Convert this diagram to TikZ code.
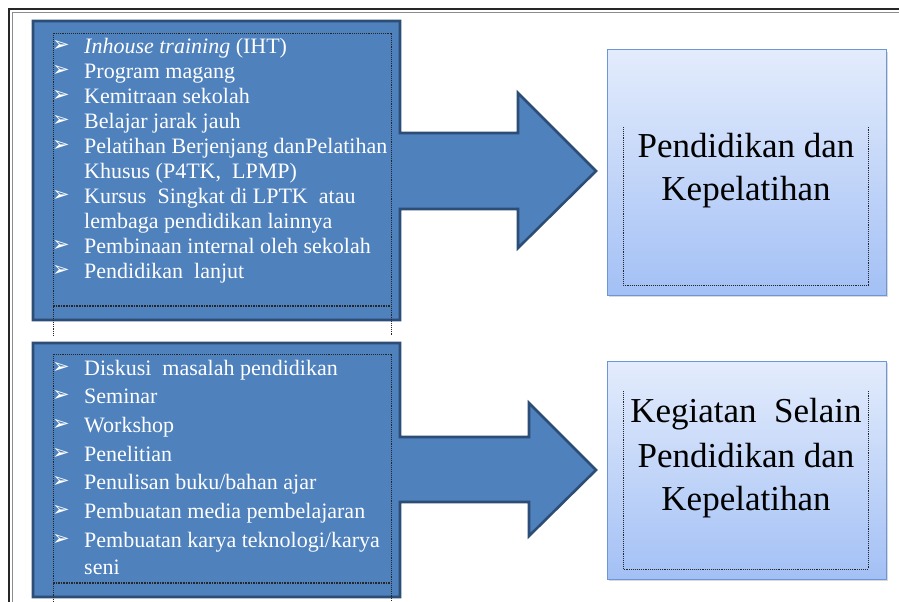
\documentclass[tikz,border=0pt]{standalone}
\usepackage{fontspec}
\setmainfont{LiberationSerif}[Extension=.ttf, UprightFont=*-Regular, ItalicFont=*-Italic, BoldFont=*-Bold, BoldItalicFont=*-BoldItalic]
\newfontfamily\seriffont{LiberationSerif}[Extension=.ttf, UprightFont=*-Regular, ItalicFont=*-Italic, BoldFont=*-Bold, BoldItalicFont=*-BoldItalic]
\newfontfamily\bulletfont{DejaVu Sans}
\definecolor{boxfill}{HTML}{4F81BD}
\definecolor{boxborder}{HTML}{2C4D75}
\definecolor{rtop}{HTML}{E3ECFC}
\definecolor{rbot}{HTML}{A3C0F5}
\definecolor{rborder}{HTML}{6E95D6}
\tikzset{
  callout/.style={fill=boxfill, draw=boxborder, line width=2.6pt, line join=miter},
  frameline/.style={draw=black!85, line width=1.8pt},
  dotframe/.style={draw=black!85, line width=0.9pt, densely dotted},
  dotbottom/.style={draw=black!85, line width=1.6pt, densely dotted},
  lefttxt/.style={anchor=base west, text=white, font=\seriffont\fontsize{22}{25}\selectfont, inner sep=0pt},
  bul/.style={anchor=center, text=white, font=\bulletfont\fontsize{21}{21}\selectfont, inner sep=0pt},
  rbox/.style={draw=rborder, line width=1pt, top color=rtop, bottom color=rbot, inner sep=0pt},
  rshadow/.style={fill=black!15, draw=none},
  righttxt/.style={anchor=base, font=\seriffont\fontsize{35}{44}\selectfont, inner sep=0pt},
}
\begin{document}
\begin{tikzpicture}[x=1pt,y=-1pt]
\useasboundingbox (0,0) rectangle (899,602);
\fill[white] (0,0) rectangle (899,602);
% outer frame
\draw[frameline] (9,602) -- (9,9) -- (899,9);
\draw[black!45, line width=0.7pt] (12.5,602) -- (12.5,12.5) -- (899,12.5);

% upper callout
\draw[callout] (33,21) -- (400,21) -- (400,133) -- (518,133) -- (518,93) -- (596,171) -- (518,248) -- (518,209) -- (400,209) -- (400,320) -- (33,320) -- cycle;
% lower callout
\draw[callout] (33,343) -- (400,343) -- (400,437) -- (529,437) -- (529,403) -- (596,470) -- (529,536) -- (529,502) -- (400,502) -- (400,597) -- (33,597) -- cycle;

% dotted text frames (left)
\draw[dotframe] (53,336) -- (53,33) -- (391,33) -- (391,336);
\draw[dotbottom] (53,306) -- (391,306);
\draw[dotframe] (53,602) -- (53,354) -- (391,354) -- (391,602);
\draw[dotbottom] (53,583) -- (391,583);

% upper list
\foreach \n/\y in {1/53,2/78,3/103,4/128,5/153,7/203,9/253,10/278}
  \node[bul] (ub\n) at (61,\y-7) {➢};
\node[lefttxt] (u1) at (84,53) {\textit{Inhouse training} (IHT)};
\node[lefttxt] (u2) at (84,78) {Program magang};
\node[lefttxt] (u3) at (84,103) {Kemitraan sekolah};
\node[lefttxt] (u4) at (84,128) {Belajar jarak jauh};
\node[lefttxt] (u5) at (84,153) {Pelatihan Berjenjang danPelatihan};
\node[lefttxt] (u6) at (84,178) {Khusus (P4TK, \ LPMP)};
\node[lefttxt] (u7) at (84,203) {Kursus \ Singkat di LPTK \ atau};
\node[lefttxt] (u8) at (84,228) {lembaga pendidikan lainnya};
\node[lefttxt] (u9) at (84,253) {Pembinaan internal oleh sekolah};
\node[lefttxt] (u10) at (84,278) {Pendidikan \ lanjut};

% lower list
\foreach \n/\y in {1/375,2/403,3/432,4/461,5/489,6/518,7/547}
  \node[bul] (lb\n) at (61,\y-7) {➢};
\node[lefttxt] (l1) at (84,375) {Diskusi \ masalah pendidikan};
\node[lefttxt] (l2) at (84,403) {Seminar};
\node[lefttxt] (l3) at (84,432) {Workshop};
\node[lefttxt] (l4) at (84,461) {Penelitian};
\node[lefttxt] (l5) at (84,489) {Penulisan buku/bahan ajar};
\node[lefttxt] (l6) at (84,518) {Pembuatan media pembelajaran};
\node[lefttxt] (l7) at (84,547) {Pembuatan karya teknologi/karya};
\node[lefttxt] (l8) at (84,574) {seni};

% right boxes
\fill[rshadow] (609,52) rectangle (888,297);
\node[rbox, minimum width=279pt, minimum height=245pt] (r1) at (746.5,172.5) {};
\fill[rshadow] (609,363) rectangle (888,581);
\node[rbox, minimum width=279pt, minimum height=218pt] (r2) at (746.5,470) {};

\draw[dotframe] (623,127) -- (623,285) -- (868,285) -- (868,127);
\draw[dotframe] (623,391) -- (623,569) -- (868,569) -- (868,391);

\node[righttxt] (r1a) at (746,157) {Pendidikan dan};
\node[righttxt] (r1b) at (746,200) {Kepelatihan};
\node[righttxt] (r2a) at (746,422) {Kegiatan \ Selain};
\node[righttxt] (r2b) at (746,467) {Pendidikan dan};
\node[righttxt] (r2c) at (746,510) {Kepelatihan};
\end{tikzpicture}
\end{document}
